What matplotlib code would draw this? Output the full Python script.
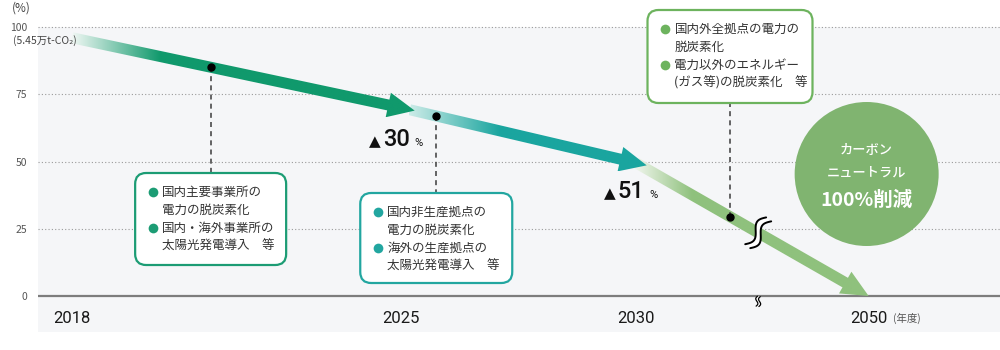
import numpy as np
import matplotlib.pyplot as plt
from matplotlib.patches import Polygon, FancyBboxPatch, Circle
from matplotlib.transforms import IdentityTransform
from matplotlib.colors import to_rgb

JP = ['Noto Sans CJK JP', 'DejaVu Sans']
plt.rcParams['font.family'] = JP

# ---- data ----
years = ['2018', '2025', '2030', '2050']
year_pos = [0, 7, 12, 16.95]        # 2030 -> 2050 squeezed (axis break)
levels = [96, 70, 49.5, 0]          # arrow centre line (% of 2018 emissions)
cuts = ['30', '51']                 # reduction vs 2018 at 2025 / 2030
y_ticks = [0, 25, 50, 75, 100]

arrow_colors = ['#10996c', '#1aa59f', '#8fc17d']
arrow_light = ['#f2f8f5', '#cdece8', '#f3f7f0']
arrow_fade = [0.26, 0.38, 0.25]

box_text = [
    ['国内主要事業所の', '電力の脱炭素化', '国内・海外事業所の', '太陽光発電導入　等'],
    ['国内非生産拠点の', '電力の脱炭素化', '海外の生産拠点の', '太陽光発電導入　等'],
    ['国内外全拠点の電力の', '脱炭素化', '電力以外のエネルギー', '(ガス等)の脱炭素化　等'],
]
box_colors = ['#1c9c74', '#22a6a0', '#6db35e']
leader_x = [2.95, 7.75, 14.0]
break_x = 14.6
goal_text = ['カーボン', 'ニュートラル', '100%削減']

# ---- layout (pixels, measured from the top of the 1000x350 picture) ----
W, H = 1000, 350
box_top = [173, 193, 10]
box_w = [151, 152, 165]
box_h = [92, 90, 93]

fig = plt.figure(figsize=(10, 3.5), dpi=100)
ax = fig.add_axes([38 / W, (H - 332) / H, 962 / W, (332 - 27) / H])
ax.set_facecolor('#f5f6f8')
ax.set_xlim(-34 / 47, 928 / 47)
ax.set_ylim(-36 / 2.69, 100)
ax.set_autoscale_on(False)
for s in ax.spines.values():
    s.set_visible(False)
ax.set_xticks([])
ax.set_yticks(y_ticks)
ax.tick_params(axis='y', length=0, pad=8, labelsize=7.5, labelcolor='#555')

for v in y_ticks[1:]:
    ax.axhline(v, color='#9a9a9a', lw=0.8, ls=(0, (1, 2)), zorder=1, clip_on=False)
ax.axhline(0, color='#7d7d7d', lw=1.6, zorder=1.5)

ident = IdentityTransform()
to_disp = ax.transData.transform
to_data = ax.transData.inverted().transform


def arrow(i, start_shift, tip_ext, z, shaft=11, head_w=25, head_l=27):
    p0 = to_disp((year_pos[i], levels[i]))
    p1 = to_disp((year_pos[i + 1], levels[i + 1]))
    d = p1 - p0
    u = d / np.hypot(*d)
    n = np.array([-u[1], u[0]])
    a = p0 + u * start_shift
    t = p1 + u * tip_ext
    b = t - u * head_l
    verts = np.array([a + n * shaft / 2, b + n * shaft / 2, b + n * head_w / 2, t,
                      b - n * head_w / 2, b - n * shaft / 2, a - n * shaft / 2])
    dv = to_data(verts)
    poly = Polygon(dv, closed=True, transform=ax.transData)
    f = np.clip(np.linspace(0, 1, 300) / arrow_fade[i], 0, 1)[:, None]
    c0 = np.array(to_rgb(arrow_light[i]))
    c1 = np.array(to_rgb(arrow_colors[i]))
    rgb = c0 * (1 - f) + c1 * f
    im = ax.imshow(rgb[None, :, :], extent=[dv[:, 0].min(), dv[:, 0].max(),
                                            dv[:, 1].min(), dv[:, 1].max()],
                   aspect='auto', origin='lower', interpolation='bilinear', zorder=z)
    im.set_clip_path(poly)


arrow(2, 0, 0, 3.0)
arrow(1, 9, 11, 3.2)
arrow(0, 0, 14, 3.4)


def squiggle(center, ang, length, amp, gap, lw, z):
    u = np.array([np.cos(ang), np.sin(ang)])
    n = np.array([-u[1], u[0]])
    s = np.linspace(-1, 1, 60)
    base = center + np.outer(s * length / 2, u) + np.outer(amp * np.sin(np.pi * s), n)
    c1 = base + n * gap
    c2 = base - n * gap
    ax.add_patch(Polygon(np.vstack([c1, c2[::-1]]), closed=True, fc='white', ec='none',
                         transform=ident, zorder=z, clip_on=False))
    for c in (c1, c2):
        ax.plot(c[:, 0], c[:, 1], color='black', lw=lw, transform=ident, zorder=z + 0.1,
                solid_capstyle='round', clip_on=False)


yb = np.interp(break_x, year_pos, levels)
squiggle(to_disp((break_x, yb)), np.radians(52), 34, 4.5, 3.2, 1.4, 4)
squiggle(to_disp((break_x, -2)), np.radians(82), 10, 1.4, 1.4, 0.9, 4)

# leaders, dots and callout boxes
for k in range(3):
    lx = leader_x[k]
    ly = np.interp(lx, year_pos, levels)
    dx, dy = to_disp((lx, ly))
    top = H - box_top[k]
    bottom = top - box_h[k]
    left = dx - box_w[k] / 2
    end = top if bottom < dy else bottom
    ax.plot([dx, dx], [dy, end], color='#4a4a4a', lw=1.2, ls=(0, (3, 2.5)),
            transform=ident, zorder=5, clip_on=False)
    ax.plot([dx], [dy], 'o', color='black', ms=5, transform=ident, zorder=5.5, clip_on=False)
    ax.add_patch(FancyBboxPatch((left, bottom), box_w[k], box_h[k],
                                boxstyle='round,pad=0,rounding_size=11', fc='white',
                                ec=box_colors[k], lw=1.6, transform=ident, zorder=6,
                                clip_on=False))
    for j, line in enumerate(box_text[k]):
        yy = top - 19 - 18 * j
        if j % 2 == 0:
            ax.plot([left + 18], [yy], 'o', color=box_colors[k], ms=7, mec='none',
                    transform=ident, zorder=7, clip_on=False)
        ax.text(left + 27, yy, line, fontsize=9, color='#333', va='center', ha='left',
                transform=ident, zorder=7)

# reduction labels
for i, cut in enumerate(cuts):
    node = (year_pos[i + 1], levels[i + 1])
    base = -38 if i == 0 else -35
    ax.annotate('▲', node, xytext=(-32, base), textcoords='offset pixels', fontsize=11,
                color='#111', ha='left', va='baseline', family=['DejaVu Sans'])
    ax.annotate(cut, node, xytext=(-18, base), textcoords='offset pixels', fontsize=17,
                color='#111', ha='left', va='baseline', family=['Roboto'], weight='medium')
    ax.annotate('%', node, xytext=(13, base), textcoords='offset pixels', fontsize=8,
                color='#111', ha='left', va='baseline', family=['Roboto'])

# carbon neutral circle
cx, _ = to_disp((year_pos[3], 0))
cx = cx - 2
cy = H - 174
ax.add_patch(Circle((cx, cy), 72, fc='#80b470', ec='none', transform=ident, zorder=2,
                    clip_on=False))
ax.text(cx, cy + 24, goal_text[0], fontsize=9.5, color='white', ha='center', va='center',
        transform=ident, zorder=3, weight='medium')
ax.text(cx, cy + 1, goal_text[1], fontsize=9.5, color='white', ha='center', va='center',
        transform=ident, zorder=3, weight='medium')
ax.text(cx, cy - 26, goal_text[2], fontsize=14, color='white', ha='center', va='center',
        transform=ident, zorder=3, weight='bold')

# year labels
for yr, p in zip(years, year_pos):
    ax.text(p, -8.2, yr, fontsize=12, color='#1a1a1a', ha='center', va='center',
            family=['Roboto'], zorder=3)
ax.annotate('(年度)', (year_pos[3], -8.2), xytext=(24, 0), textcoords='offset pixels',
            fontsize=7.5, color='#555', ha='left', va='center')

fig.text(12 / W, 1 - 8 / H, '(%)', fontsize=8.5, color='#444', ha='left', va='center')
fig.text(13 / W, 1 - 41 / H, '(5.45万t-CO₂)', fontsize=7.5, color='#444', ha='left',
         va='center', zorder=5)

fig.savefig('out.png', dpi=100)
